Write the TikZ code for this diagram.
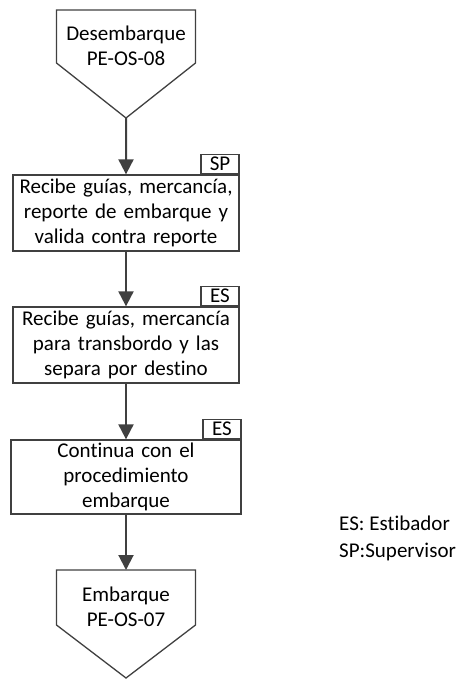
\documentclass[tikz,border=0pt]{standalone}
\usepackage{fontspec}
\setmainfont{Carlito}[Ligatures=NoCommon]
\usetikzlibrary{arrows.meta, positioning, calc}
\definecolor{linegray}{RGB}{64,64,64}
\tikzstyle{process} = [rectangle, minimum width=226bp, minimum height=76bp, text width=224bp, align=center, draw=linegray, line width=1.3bp, inner sep=0pt]
\tikzstyle{role} = [rectangle, minimum width=38bp, minimum height=19bp, inner sep=0pt, draw=linegray, line width=1.3bp, anchor=south east]
\tikzstyle{offpage} = [draw=linegray, line width=1.3bp]
\tikzstyle{pagetext} = [align=center, inner sep=0pt]
\tikzstyle{legend} = [anchor=west, inner sep=0pt]
\tikzstyle{flow} = [draw=linegray, line width=2bp, -{Triangle[width=15bp, length=15bp]}]

\begin{document}
\begin{tikzpicture}[x=1bp, y=-1bp, node distance=132bp, font=\fontsize{21bp}{25bp}\selectfont]
\useasboundingbox (0,0) rectangle (468,679);
\node (start) [pagetext] at (126,46) {Desembarque\\PE-OS-08};
\draw [offpage] ($(start)+(-69.5,-36)$) -- ++(139,0) -- ++(0,53) -- ++(-69.5,55) coordinate (startTip) -- ++(-69.5,-55) -- cycle;
\node (recibe) [process, below of=start, yshift=-35bp] {Recibe guías, mercancía,\\reporte de embarque y\\valida contra reporte};
\node (recibeRole) [role] at (recibe.north east) {SP};
\node (separa) [process, below of=recibe] {Recibe guías, mercancía\\para transbordo y las\\separa por destino};
\node (separaRole) [role] at (separa.north east) {ES};
\node (continua) [process, below of=separa, minimum width=230bp, minimum height=74bp] {Continua con el\\procedimiento\\embarque};
\node (continuaRole) [role] at (continua.north east) {ES};
\node (end) [pagetext, below of=continua, yshift=2bp] {Embarque\\PE-OS-07};
\coordinate (endTop) at ($(end)+(0,-37)$);
\draw [offpage] ($(end)+(-69.5,-37)$) -- ++(139,0) -- ++(0,55) -- ++(-69.5,53) -- ++(-69.5,-53) -- cycle;
\node (legendES) [legend] at (339,523) {ES: Estibador};
\node (legendSP) [legend] at (339,552) {SP:Supervisor};
\draw [flow] (startTip) -- (recibe);
\draw [flow] (recibe) -- (separa);
\draw [flow] (separa) -- (continua);
\draw [flow] (continua) -- (endTop);
\end{tikzpicture}
\end{document}
